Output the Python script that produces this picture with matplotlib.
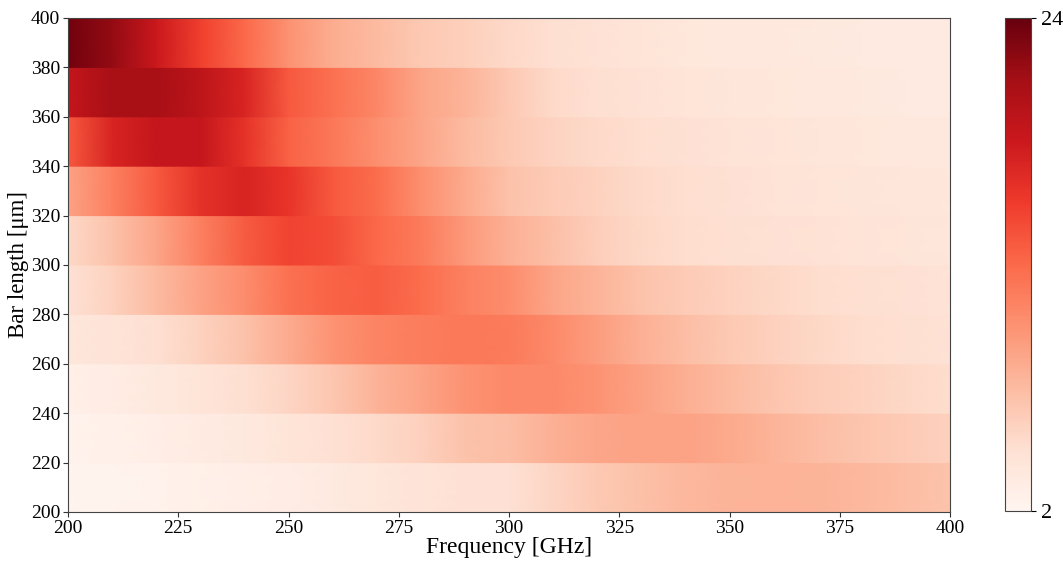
import matplotlib
matplotlib.use("Agg")
import matplotlib.pyplot as plt
import numpy as np

plt.rcParams['font.family'] = ['Liberation Serif', 'DejaVu Serif']

# frequency samples (GHz) and bar lengths (um, row edges)
freq = [200, 210, 220, 230, 240, 250, 260, 270, 280, 290, 300,
        310, 320, 330, 340, 350, 360, 370, 380, 390, 400]
bar_edges = [200, 220, 240, 260, 280, 300, 320, 340, 360, 380, 400]

# one row of values per bar length band, bottom (200-220) to top (380-400)
row_200 = [2.2, 2.3, 2.4, 2.7, 2.9, 3.1, 3.5, 3.9, 4.3, 4.6, 4.6,
           5.6, 6.5, 7.1, 7.7, 8.0, 8.1, 8.0, 7.7, 7.3, 6.9]
row_220 = [2.4, 2.6, 2.9, 3.3, 3.6, 4.2, 4.6, 5.2, 5.9, 7.0, 7.3,
           8.2, 8.9, 9.2, 9.2, 8.7, 8.0, 7.3, 6.8, 6.3, 5.9]
row_240 = [2.7, 3.2, 3.6, 4.2, 4.8, 5.6, 6.7, 8.1, 9.1, 10.2, 10.9,
           10.8, 10.2, 9.3, 8.3, 7.5, 6.8, 6.2, 5.8, 5.4, 5.0]
row_260 = [3.9, 4.3, 4.8, 5.8, 7.0, 8.6, 10.2, 11.2, 11.7, 12.0, 11.8,
           10.8, 9.5, 8.2, 7.3, 6.5, 5.9, 5.4, 5.0, 4.8, 4.5]
row_280 = [4.6, 5.8, 7.5, 9.2, 10.6, 12.5, 13.4, 13.7, 12.8, 11.4, 10.6,
           9.0, 8.0, 6.9, 6.3, 5.8, 5.4, 5.0, 4.8, 4.6, 4.4]
row_300 = [5.3, 7.0, 9.0, 11.5, 13.8, 15.3, 14.8, 13.0, 11.8, 9.8, 8.2,
           7.2, 6.1, 5.4, 5.0, 4.8, 4.6, 4.5, 4.3, 4.1, 4.0]
row_320 = [9.2, 11.5, 14.0, 16.5, 17.5, 16.3, 14.0, 12.8, 10.5, 8.7, 7.0,
           6.3, 5.8, 5.2, 4.9, 4.6, 4.4, 4.2, 4.1, 4.0, 3.9]
row_340 = [14.0, 17.5, 19.0, 19.0, 16.5, 13.5, 12.0, 10.5, 9.0, 7.5, 6.5,
           5.7, 5.2, 4.9, 4.6, 4.4, 4.2, 4.0, 3.9, 3.8, 3.7]
row_360 = [19.0, 21.0, 21.0, 19.5, 17.5, 14.0, 12.5, 11.0, 9.0, 8.0, 6.5,
           5.2, 4.8, 4.5, 4.2, 4.0, 3.9, 3.8, 3.6, 3.5, 3.5]
row_380 = [23.5, 22.0, 18.5, 15.5, 13.0, 10.3, 8.5, 7.5, 6.5, 6.0, 5.3,
           4.8, 4.5, 4.2, 3.9, 3.8, 3.7, 3.6, 3.5, 3.4, 3.4]

rows = [row_200, row_220, row_240, row_260, row_280,
        row_300, row_320, row_340, row_360, row_380]

vmin, vmax = 2, 24

fig = plt.figure(figsize=(10.63, 5.63), dpi=100)
ax = fig.add_axes([68 / 1063, 51 / 563, 882 / 1063, 494 / 563])
cax = fig.add_axes([1005 / 1063, 52 / 563, 26 / 1063, 493 / 563])

for i, vals in enumerate(rows):
    band = np.vstack([vals, vals])
    mesh = ax.pcolormesh(freq, [bar_edges[i], bar_edges[i + 1]], band,
                         shading='gouraud', cmap='Reds', vmin=vmin, vmax=vmax)

ax.set_xlim(200, 400)
ax.set_ylim(200, 400)
ax.set_xticks([200, 225, 250, 275, 300, 325, 350, 375, 400])
ax.set_yticks(bar_edges)
ax.tick_params(labelsize=14, color='#333333', pad=2)
for s in ax.spines.values():
    s.set_color('#444444')
ax.set_xlabel("Frequency [GHz]", fontsize=17, labelpad=0)
ax.set_ylabel("Bar length [μm]", fontsize=16.5, labelpad=1)

cb = fig.colorbar(mesh, cax=cax)
cb.set_ticks([vmin, vmax])
cb.ax.tick_params(labelsize=16)
cb.outline.set_edgecolor('#444444')

fig.savefig("out.png", dpi=100)
plt.close(fig)
